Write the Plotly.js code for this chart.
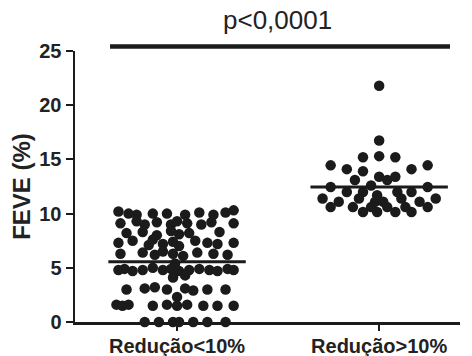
<!DOCTYPE html>
<html>
<head>
<meta charset="utf-8">
<script src="https://cdn.plot.ly/plotly-3.0.1.min.js"></script>
<style>html,body{margin:0;padding:0;background:#fff;}#chart{width:472px;height:356px;}</style>
</head>
<body>
<div id="chart"></div>
<script>
var categories = ["Redução<10%", "Redução>10%"];
var groupMeans = [5.55, 12.45];
var yTicks = [0, 5, 10, 15, 20, 25];
var pLabel = "p<0,0001";
var yTitle = "FEVE (%)";

// Group 1 (Redução<10%): horizontal spread offset (category units) and FEVE values
var g1Offset = [
  -0.29,-0.24,-0.20,-0.12,-0.05,0.04,0.11,0.18,0.24,0.28,
  -0.28,-0.20,-0.16,-0.10,-0.03,0.00,0.05,0.12,0.17,0.28,
  -0.25,-0.17,-0.10,-0.03,0.01,0.06,0.21,
  -0.29,-0.22,-0.14,-0.12,-0.07,-0.02,0.01,0.09,0.15,0.20,0.28,
  -0.28,-0.17,-0.11,-0.07,-0.02,0.03,0.10,0.18,0.25,
  -0.01,
  -0.29,-0.26,-0.22,-0.17,-0.12,-0.07,-0.03,0.01,0.06,0.11,0.16,0.20,0.25,0.28,
  -0.02,0.04,
  -0.25,-0.16,-0.11,-0.05,0.04,0.08,0.15,0.24,
  0.00,
  -0.30,-0.27,-0.24,-0.12,-0.05,0.00,0.05,0.13,0.20,0.28,
  -0.16,-0.09,-0.02,0.01,0.08,0.15,0.24
];
var g1Value = [
  10.2,10.0,9.9,10.0,10.0,9.9,10.1,9.9,10.1,10.3,
  9.1,9.3,9.0,9.2,9.0,9.3,9.1,9.0,9.2,9.1,
  8.2,8.3,8.0,8.4,8.1,8.2,8.3,
  7.3,7.5,7.1,7.6,7.2,7.4,7.0,7.5,7.3,7.2,7.3,
  6.3,6.4,6.2,6.5,6.3,6.1,6.4,6.3,6.2,
  5.4,
  4.8,4.9,4.7,4.8,5.0,4.8,4.9,4.7,4.8,4.9,4.8,4.7,4.9,4.8,
  4.1,4.3,
  3.0,3.1,3.2,3.0,3.1,2.9,3.0,3.0,
  2.3,
  1.6,1.5,1.6,1.5,1.6,1.5,1.6,1.5,1.5,1.5,
  0,0,0,0,0,0,0
];

// Group 2 (Redução>10%)
var g2Offset = [
  0.00,
  0.00,
  -0.08,0.00,0.08,
  -0.24,0.24,
  -0.16,0.16,
  -0.08,
  0.00,0.08,
  -0.12,0.04,
  -0.04,
  -0.24,0.24,
  -0.16,-0.08,0.09,0.16,
  -0.01,
  -0.28,-0.10,0.11,0.28,
  -0.20,-0.02,0.02,0.20,
  -0.24,-0.13,-0.04,0.04,0.13,0.24,
  -0.08,-0.01,0.08,0.16
];
var g2Value = [
  21.8,
  16.75,
  15.2,15.3,15.2,
  14.45,14.45,
  14.1,14.1,
  13.9,
  13.4,13.4,
  13.1,13.1,
  12.6,
  12.45,12.45,
  12.0,12.0,12.0,12.0,
  11.7,
  11.4,11.4,11.4,11.4,
  11.1,11.1,11.1,11.1,
  10.6,10.6,10.6,10.6,10.6,10.6,
  10.15,10.15,10.15,10.15
];

var ink = "#1b1b1b";
var txt = "#222";
var fam = "Liberation Sans, Arial, sans-serif";
var groups = [[g1Offset, g1Value], [g2Offset, g2Value]];
var traces = [];
groups.forEach(function (g, i) {
  traces.push({
    type: "scatter", mode: "markers",
    x: g[0].map(function (o) { return i + o; }),
    y: g[1],
    marker: { size: 10.5, color: ink, line: { width: 0 } },
    cliponaxis: false, hoverinfo: "skip", showlegend: false
  });
});
groupMeans.forEach(function (m, i) {
  traces.push({
    type: "scatter", mode: "lines",
    x: [i - 0.34, i + 0.34], y: [m, m],
    line: { color: ink, width: 3 },
    hoverinfo: "skip", showlegend: false
  });
});

var layout = {
  width: 472, height: 356,
  margin: { l: 75, r: 12, t: 51, b: 34 },
  paper_bgcolor: "#fff", plot_bgcolor: "#fff",
  font: { family: fam, color: txt },
  showlegend: false,
  xaxis: {
    range: [-0.505, 1.4],
    tickvals: [0, 1], ticktext: categories,
    showline: true, linecolor: ink, linewidth: 2.5,
    ticks: "outside", ticklen: 6, tickwidth: 2, tickcolor: ink,
    ticklabelstandoff: -2,
    showgrid: false, zeroline: false,
    tickfont: { size: 20, family: fam, weight: "bold", color: txt }
  },
  yaxis: {
    range: [0, 25],
    tickvals: yTicks,
    showline: true, linecolor: ink, linewidth: 2.5,
    ticks: "outside", ticklen: 7, tickwidth: 2, tickcolor: ink,
    showgrid: false, zeroline: false,
    tickfont: { size: 20, family: fam, weight: "bold", color: txt },
    title: { text: yTitle, standoff: 2, font: { size: 24, family: fam, weight: "bold", color: txt } }
  },
  shapes: [{
    type: "line", xref: "paper", yref: "paper",
    x0: 0.091, x1: 0.974, y0: 1.017, y1: 1.017,
    line: { color: ink, width: 4.5 }
  }],
  annotations: [{
    text: pLabel, xref: "paper", yref: "paper",
    x: 0.527, y: 1.114, xanchor: "center", yanchor: "middle",
    showarrow: false,
    font: { size: 26, family: fam, color: txt }
  }]
};

Plotly.newPlot("chart", traces, layout, { displayModeBar: false, staticPlot: true });
</script>
</body>
</html>
